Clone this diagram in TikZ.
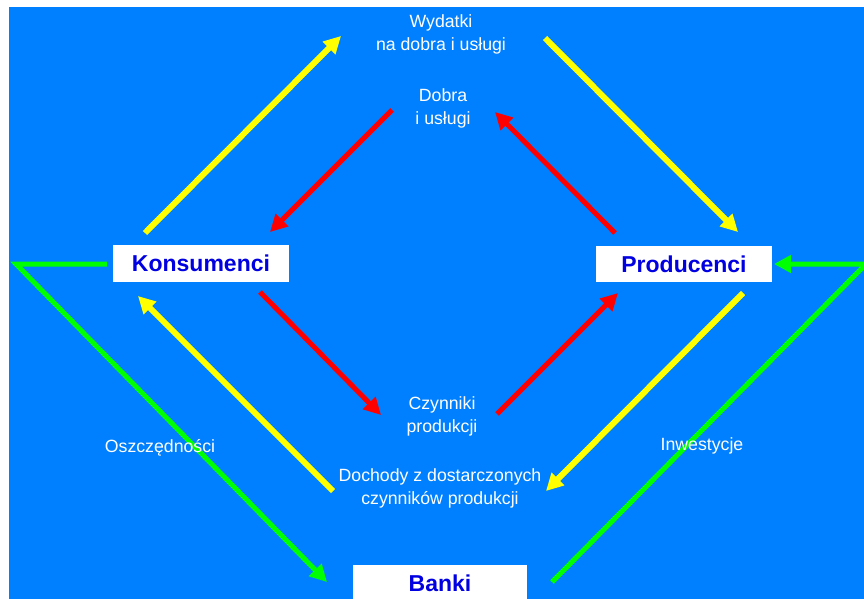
\documentclass[tikz,border=0pt]{standalone}
\usepackage{fontspec}
\setmainfont{Liberation Sans}
\usetikzlibrary{arrows.meta}
\pgfdeclarelayer{fg}
\pgfsetlayers{main,fg}
\definecolor{bgblue}{RGB}{0,128,255}
\definecolor{boxtext}{RGB}{0,0,225}
\definecolor{ayellow}{RGB}{255,255,0}
\definecolor{ared}{RGB}{255,0,0}
\definecolor{agreen}{RGB}{0,255,0}
\tikzset{
  boxnode/.style={fill=white, draw=none, inner sep=0pt, minimum width=176pt,
    text=boxtext, font=\fontsize{23}{27}\selectfont\bfseries},
  lbl/.style={text=white, align=center, inner sep=0pt,
    font=\fontsize{17.7}{23}\selectfont},
  tipstyle/.style={-{Triangle[length=17pt,width=17pt]}},
  yarrow/.style={tipstyle, draw=ayellow, line width=6pt},
  rarrow/.style={tipstyle, draw=ared, line width=5pt},
  garrow/.style={tipstyle, draw=agreen, line width=5pt, line join=miter},
}
\begin{document}
\begin{tikzpicture}[x=1pt,y=-1pt]
\useasboundingbox (0,0) rectangle (864,599);
\fill[white] (0,0) rectangle (864,599);
\fill[bgblue] (9,7) rectangle (864,599);
\begin{pgfonlayer}{fg}
\node[boxnode, minimum height=37pt] (kons) at (201,263.5) {Konsumenci};
\node[boxnode, minimum height=36pt] (prod) at (684,264) {Producenci};
\node[boxnode, minimum width=174pt, minimum height=37pt] (banki) at (440,583.5) {Banki};
\node[lbl] (wyd) at (441,34) {Wydatki\\na dobra i usługi};
\node[lbl] (dobra) at (443,108) {Dobra\\i usługi};
\node[lbl] (czyn) at (442,416) {Czynniki\\produkcji};
\node[lbl] (doch) at (440,488) {Dochody z dostarczonych\\czynników produkcji};
\node[lbl] (osz) at (160,448) {Oszczędności};
\node[lbl] (inw) at (702,446) {Inwestycje};
\end{pgfonlayer}
\coordinate (gl) at (16,264);
\coordinate (gr) at (866,264);
% green
\draw[garrow] ([shift={(-94,0.5)}]kons.center) -- (gl) -- ([shift={(-113,-1.5)}]banki.center);
\draw[garrow] ([shift={(112,-1.5)}]banki.center) -- (gr) -- ([shift={(90,0)}]prod.center);
% yellow
\draw[yarrow] ([shift={(-56,-30.5)}]kons.center) -- ([shift={(-100,2)}]wyd.center);
\draw[yarrow] ([shift={(104,4)}]wyd.center) -- ([shift={(54,-32)}]prod.center);
\draw[yarrow] ([shift={(59,29)}]prod.center) -- ([shift={(106,3)}]doch.center);
\draw[yarrow] ([shift={(-107,3)}]doch.center) -- ([shift={(-63,32.5)}]kons.center);
% red
\draw[rarrow] ([shift={(-51,2)}]dobra.center) -- ([shift={(69,-31.5)}]kons.center);
\draw[rarrow] ([shift={(-69,-31)}]prod.center) -- ([shift={(52,4)}]dobra.center);
\draw[rarrow] ([shift={(59,28.5)}]kons.center) -- ([shift={(-61,-1)}]czyn.center);
\draw[rarrow] ([shift={(55,-2)}]czyn.center) -- ([shift={(-66,29)}]prod.center);
\end{tikzpicture}
\end{document}
